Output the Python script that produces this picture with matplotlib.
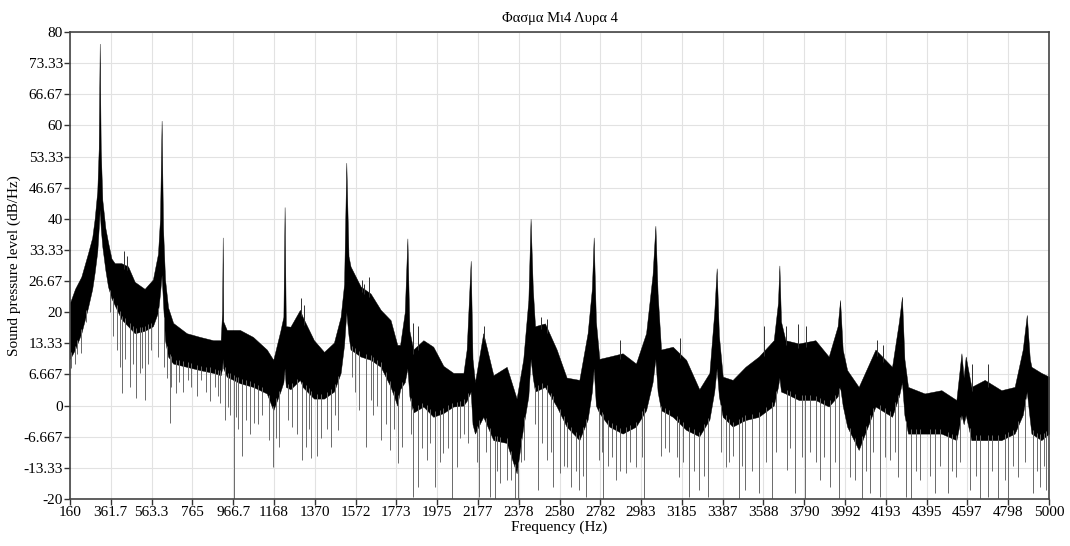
import matplotlib
matplotlib.use("Agg")
import matplotlib.pyplot as plt
import numpy as np

plt.rcParams['font.family'] = ['Liberation Serif', 'DejaVu Serif']

# spectrum band: frequency knots with the top and bottom of the dense trace
freq_hz = [160, 185, 216, 249, 270, 282, 295, 302, 307, 312, 320, 335, 348, 365,
           381, 414, 447, 480, 529, 570, 595, 605, 613, 620, 630, 645, 670, 737,
           803, 868, 905, 912, 915, 918, 935, 1000, 1065, 1133, 1165, 1200, 1215,
           1221, 1227, 1250, 1297, 1310, 1366, 1416, 1465, 1498, 1515, 1526, 1537,
           1547, 1597, 1646, 1696, 1745, 1778, 1792, 1815, 1828, 1838, 1857, 1907,
           1956, 2006, 2055, 2105, 2121, 2141, 2150, 2162, 2203, 2253, 2319, 2368,
           2401, 2426, 2437, 2448, 2459, 2508, 2566, 2615, 2678, 2719, 2740, 2749,
           2760, 2777, 2826, 2892, 2958, 3008, 3040, 3054, 3065, 3082, 3140, 3206,
           3271, 3321, 3345, 3357, 3368, 3387, 3436, 3499, 3565, 3639, 3660, 3667,
           3675, 3697, 3763, 3845, 3911, 3955, 3967, 3980, 4002, 4059, 4142, 4224,
           4258, 4273, 4285, 4303, 4385, 4468, 4542, 4567, 4578, 4588, 4616, 4682,
           4764, 4830, 4870, 4890, 4905, 4913, 4962, 5000]
top_db = [22, 25, 27.6, 32.6, 36, 40, 46, 55, 77.5, 55, 44, 38, 35, 31.5,
          30.5, 30.5, 29.8, 26.5, 25, 27, 32.5, 40, 61, 38, 27, 21, 17.7, 15.5,
          14.7, 14, 14, 20, 36, 18, 16.2, 16.2, 14.7, 12, 9.8, 16, 19,
          42.5, 17, 16.9, 20.5, 19, 14, 11.5, 13.5, 19, 26, 52, 32,
          29.8, 25.5, 24, 20.5, 18.3, 13, 13, 20, 35.8, 16, 12, 14,
          12.6, 8.5, 7, 7, 12, 31, 10, 5, 15.5, 6.5, 8.3, 1.5,
          10, 22.6, 40, 25, 17, 17.6, 12, 6, 5.5, 15.5, 25, 36,
          18, 10, 10.5, 11.2, 9, 15.5, 28, 38.5, 24, 12, 12.6, 9.8,
          3.5, 7, 20, 29.4, 15, 6.2, 5.5, 8.3, 10.5, 14, 22, 30,
          18, 14, 13.3, 14, 10.5, 17, 22.6, 12, 7.6, 4, 12, 8.3,
          18, 23.3, 10, 4, 2.6, 3.3, 1.2, 11.2, 6, 10.5, 4, 5.5,
          3.3, 4, 12, 19.4, 10, 8.3, 7, 6.2]
bottom_db = [10, 12, 15.5, 21, 25, 28.5, 33, 38, 42, 38, 34, 29, 25.5, 23,
             21.5, 18.5, 17, 15.5, 16, 17, 20, 24, 28, 22, 14, 10.5, 9, 8.3,
             7.6, 7, 6.5, 8, 10, 8, 6.2, 4.8, 4, 2.6, -1, 3, 5,
             8, 4, 3.5, 5.5, 4, 1.5, 1.5, 3, 7, 13, 20, 15,
             12, 10.5, 9.8, 8.3, 4, 0, 3.5, 5, 8, 2, -1.5, -0.2,
             -2.4, -1.6, -0.2, 0, 1, 3, -4, -6, -2.4, -7.4, -8, -14.5,
             -4.5, 2, 10, 6, 3, 4, -0.2, -4.5, -7.4, -3, 3, 8,
             0, -1.6, -4.5, -6, -4.5, -1, 5, 10, 3, -1, -2.4, -5.2,
             -6.6, -3, 3, 8, 2, -2.4, -4.5, -3.1, -2.4, 0, 4, 6,
             3, 2.6, 1.2, 1.2, -0.2, 2, 4, 0, -4.5, -9.5, -0.2, -2.4,
             2, 5, -2, -6, -6, -6, -7.4, -2, -4, -2, -7.4, -7.4,
             -7.4, -6, -2, 3, -3, -6, -7.4, -6]

# single-bin dips below the band
dip_hz = [165, 183, 195, 216, 240, 360, 375, 392, 406, 419, 430, 455, 470, 488,
          504, 515, 529, 545, 560, 595, 625, 640, 653, 660, 686, 700, 720, 743,
          760, 790, 809, 830, 850, 875, 890, 900, 925, 941, 950, 969, 982, 990,
          1012, 1030, 1050, 1070, 1090, 1110, 1144, 1165, 1180, 1193, 1240, 1259,
          1280, 1309, 1325, 1340, 1350, 1383, 1400, 1430, 1449, 1470, 1485, 1556,
          1570, 1590, 1622, 1646, 1660, 1680, 1696, 1720, 1742, 1760, 1783, 1800,
          1845, 1857, 1882, 1900, 1923, 1940, 1965, 1990, 2006, 2030, 2047, 2072,
          2090, 2110, 2129, 2170, 2184, 2215, 2236, 2261, 2270, 2286, 2319, 2340,
          2360, 2373, 2390, 2405, 2460, 2475, 2495, 2517, 2540, 2550, 2583, 2600,
          2615, 2637, 2660, 2678, 2695, 2711, 2777, 2790, 2797, 2820, 2840, 2859,
          2880, 2909, 2930, 2958, 2990, 3000, 3082, 3100, 3120, 3160, 3173, 3190,
          3222, 3245, 3271, 3295, 3313, 3380, 3403, 3420, 3436, 3466, 3480, 3499,
          3530, 3565, 3600, 3631, 3650, 3705, 3720, 3746, 3780, 3792, 3820, 3850,
          3870, 3890, 3919, 3940, 3960, 4018, 4040, 4076, 4095, 4117, 4130, 4166,
          4190, 4216, 4240, 4252, 4295, 4320, 4340, 4361, 4410, 4435, 4460, 4501,
          4520, 4542, 4560, 4608, 4640, 4657, 4698, 4720, 4748, 4780, 4797, 4820,
          4847, 4880, 4921, 4940, 4954, 4975, 4987]
dip_db = [8, 9, 11, 11.2, 18, 20, 15, 12, 8.3, 2.6, 10, 4, 9, 1.6,
          6.9, 8, 1.2, 9, 12, 10.5, 8.3, 6, -3.8, 4, 2.6, 5, 3, 5.5,
          4, 2, 5.5, 3, 1, 4, 2, 0.5, -3.1, -0.2, -2, -20, -2.4, -5,
          -10.9, -3, -6, -3.8, -4, -2, -7.4, -13.1, -7, -8.8, -3, -4.5,
          -6, -11.6, -8.8, -5, -11.3, -10.9, -7, -5, -8.8, -2, -5.2, 6.2,
          3, -1, -8.8, 1.2, -2, 0, -7.4, -4, -9.5, -5, -12.4, -8.8,
          -6, -19.5, -17.4, -9, -11.6, -8, -17.4, -12, -10.2, -9, -20, -13.1,
          -7, -6, -8.1, -12, -19.5, -10, -19.5, -20, -14, -16.6, -15.9, -16,
          -20, -20, -12, -11.6, -4, -18.1, -8, -11.6, -10, -17.4, -14.5, -13,
          -13.1, -17.4, -14, -18.1, -15, -19.5, -11.6, -10, -20, -13, -11, -15.9,
          -14, -14.5, -12, -13.1, -11, -20, -10.9, -9, -10, -11, -15.2, -12,
          -19.5, -14, -18.1, -15, -19.5, -10, -13.1, -12, -10.9, -20, -13, -18.1,
          -14, -18.8, -12, -20, -10, -13.8, -9, -18.8, -11, -20, -10, -12,
          -15.9, -11, -17.4, -12, -20, -15.2, -16, -20, -14, -18.8, -10, -19.5,
          -11, -11.6, -10, -15.2, -19.5, -20, -14, -15.9, -15, -18.8, -13, -18.8,
          -14, -15.2, -12, -18.1, -15, -20, -19.5, -14, -20, -16, -20, -13,
          -15.2, -12, -18.8, -14, -17.4, -13, -18.1]

# narrow spikes poking above the band
spike_hz = [425, 440, 1300, 1318, 1602, 1615, 1640, 1858, 1880, 2205, 2490, 2520,
            2880, 3175, 3590, 3700, 3760, 3800, 4150, 4180, 4620, 4700]
spike_db = [33, 32, 23, 21.5, 27, 26, 27.5, 17.6, 17, 17, 19, 18.5,
            14, 14.5, 17, 17, 17.5, 17, 14, 13, 9, 9]

x_ticks = np.linspace(160, 5000, 25)
x_labels = ['160', '361.7', '563.3', '765', '966.7', '1168', '1370', '1572', '1773',
            '1975', '2177', '2378', '2580', '2782', '2983', '3185', '3387', '3588',
            '3790', '3992', '4193', '4395', '4597', '4798', '5000']
y_ticks = np.linspace(-20, 80, 16)
y_labels = ['-20', '-13.33', '-6.667', '0', '6.667', '13.33', '20', '26.67', '33.33',
            '40', '46.67', '53.33', '60', '66.67', '73.33', '80']

fig = plt.figure(figsize=(10.70, 5.46), dpi=100)
ax = fig.add_axes([0.0654, 0.0861, 0.915, 0.8553])

dip_start = np.interp(dip_hz, freq_hz, bottom_db)
ax.vlines(dip_hz, dip_db, dip_start + 1, color='#6a6a6a', lw=0.7)
ax.fill_between(freq_hz, bottom_db, top_db, color='black', lw=0.3, edgecolor='black')
spike_start = np.interp(spike_hz, freq_hz, top_db)
ax.vlines(spike_hz, spike_start - 1, spike_db, color='#303030', lw=0.7)

ax.set_xlim(160, 5000)
ax.set_ylim(-20, 80)
ax.set_xticks(x_ticks)
ax.set_xticklabels(x_labels)
ax.set_yticks(y_ticks)
ax.set_yticklabels(y_labels)
ax.grid(True, color='#e2e2e2', lw=0.8)
ax.set_axisbelow(True)
ax.tick_params(direction='out', length=4, width=1, color='#333333', labelsize=11, pad=1)
for s in ax.spines.values():
    s.set_color('#444444')
    s.set_linewidth(1.2)

ax.set_title('Φασμα Μι4 Λυρα 4', fontsize=10.5, pad=7)
ax.set_xlabel('Frequency (Hz)', fontsize=11, labelpad=1)
ax.set_ylabel('Sound pressure level (dB/Hz)', fontsize=11, labelpad=2)

fig.savefig('out.png', dpi=100)
